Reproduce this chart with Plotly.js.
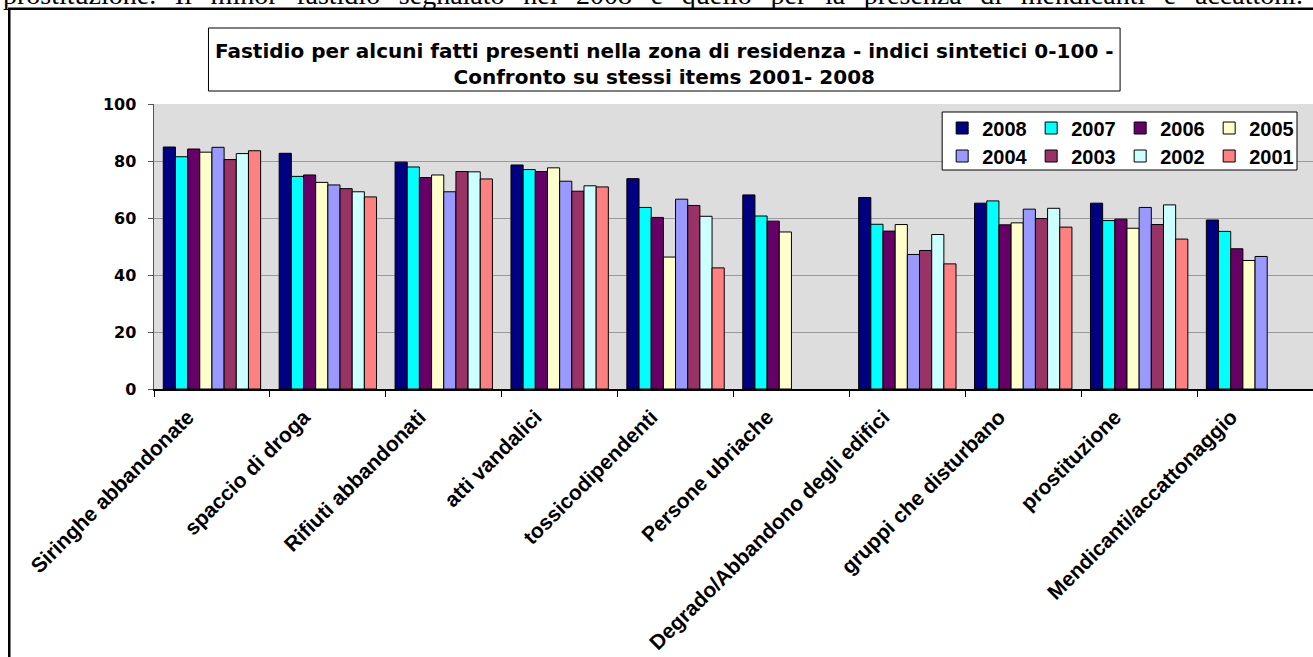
<!DOCTYPE html>
<html>
<head>
<meta charset="utf-8">
<script src="https://cdn.plot.ly/plotly-3.0.1.min.js"></script>
<style>html,body{margin:0;padding:0;background:#fff;}#chart{width:1313px;height:657px;}</style>
</head>
<body>
<div id="chart"></div>
<script>
const categories = ["Siringhe abbandonate","spaccio di droga","Rifiuti abbandonati","atti vandalici","tossicodipendenti","Persone ubriache","Degrado/Abbandono degli edifici","gruppi che disturbano","prostituzione","Mendicanti/accattonaggio"];
const years = ["2008","2007","2006","2005","2004","2003","2002","2001"];
const v2008 = [84.9, 82.7, 79.6, 78.6, 73.8, 68.1, 67.2, 65.2, 65.2, 59.3];
const v2007 = [81.5, 74.6, 77.9, 77.0, 63.7, 60.7, 57.8, 66.0, 59.1, 55.3];
const v2006 = [84.2, 75.1, 74.2, 76.3, 60.2, 58.9, 55.4, 57.6, 59.6, 49.2];
const v2005 = [83.1, 72.5, 75.1, 77.6, 46.3, 55.1, 57.7, 58.3, 56.4, 45.1];
const v2004 = [84.8, 71.6, 69.2, 72.9, 66.6, null, 47.2, 63.1, 63.7, 46.5];
const v2003 = [80.5, 70.3, 76.3, 69.4, 64.4, null, 48.6, 59.8, 57.7, null];
const v2002 = [82.6, 69.2, 76.2, 71.3, 60.6, null, 54.2, 63.4, 64.6, null];
const v2001 = [83.6, 67.4, 73.7, 70.9, 42.5, null, 43.9, 56.8, 52.6, null];
const yTicks = [0, 20, 40, 60, 80, 100];
const colors = ["#000080","#00FFFF","#660066","#FFFFCC","#9999FF","#993366","#CCFFFF","#FF8080"];
const titleText = "Fastidio per alcuni fatti presenti nella zona di residenza - indici sintetici 0-100 -<br>Confronto su stessi items 2001- 2008";
const docWords = ["prostituzione.","Il","minor","fastidio","segnalato","nel","2008","è","quello","per","la","presenza","di","mendicanti","e","accattoni."];

const series = [v2008, v2007, v2006, v2005, v2004, v2003, v2002, v2001];
const traces = series.map((vals, i) => ({
  type: "bar",
  name: years[i],
  x: categories,
  y: vals,
  legend: i < 4 ? "legend" : "legend2",
  marker: {color: colors[i], line: {color: "#000000", width: 1}},
  hoverinfo: "x+y+name"
}));

const W = 1313, H = 657;
const L = 153.5, R = 0, T = 104, B = 268;
const pw = W - L - R, ph = H - T - B;
const px = v => (v - L) / pw;
const py = v => (H - B - v) / ph;

const legendFont = {family: "Liberation Sans, Arial, sans-serif", size: 20, color: "#000", weight: "bold"};
const legendBase = {
  orientation: "h", xanchor: "left", yanchor: "middle",
  bgcolor: "rgba(0,0,0,0)", borderwidth: 0,
  font: legendFont, entrywidth: 44, entrywidthmode: "pixels",
  itemwidth: 30, traceorder: "normal"
};

const layout = {
  width: W, height: H,
  margin: {l: L, r: R, t: T, b: B, pad: 0},
  paper_bgcolor: "#FFFFFF",
  plot_bgcolor: "#DDDDDD",
  barmode: "group",
  bargap: 0.16,
  bargroupgap: 0,
  font: {family: "Liberation Sans, Arial, sans-serif", color: "#000", size: 18},
  title: {
    text: titleText,
    font: {family: "DejaVu Sans, sans-serif", size: 20, color: "#000", weight: "bold"},
    xref: "paper", x: px(664), xanchor: "center",
    yref: "container", y: 1 - 58 / H, yanchor: "middle"
  },
  xaxis: {
    type: "category",
    tickson: "boundaries",
    ticks: "outside", ticklen: 6, tickcolor: "#000", tickwidth: 1,
    showline: true, linecolor: "#000", linewidth: 1.5,
    showgrid: false, zeroline: false,
    tickangle: -45,
    ticklabelshift: -24,
    ticklabelstandoff: 6,
    tickfont: {family: "Liberation Sans, Arial, sans-serif", size: 21, color: "#000", weight: "bold"},
    fixedrange: true
  },
  yaxis: {
    range: [0, 100],
    tickvals: yTicks,
    ticks: "outside", ticklen: 5, tickcolor: "#555", tickwidth: 1,
    showline: true, linecolor: "#555", linewidth: 1.5,
    showgrid: true, gridcolor: "#9A9A9A", gridwidth: 1,
    zeroline: false,
    tickfont: {family: "DejaVu Sans, sans-serif", size: 16, color: "#000", weight: "bold"},
    ticklabelstandoff: 8,
    fixedrange: true
  },
  legend: Object.assign({}, legendBase, {x: px(942), y: py(128)}),
  legend2: Object.assign({}, legendBase, {x: px(942), y: py(156)}),
  shapes: [
    {type: "rect", xref: "paper", yref: "paper", x0: px(942), x1: px(1297), y0: py(170), y1: py(112),
     line: {color: "#000", width: 1}, fillcolor: "#FFFFFF", layer: "above"},
    {type: "rect", xref: "paper", yref: "paper", x0: px(208), x1: px(1120), y0: py(91), y1: py(28),
     line: {color: "#000", width: 1}, fillcolor: "rgba(0,0,0,0)", layer: "above"},
    {type: "rect", xref: "paper", yref: "paper", x0: px(8.7), x1: px(1330), y0: py(680), y1: py(8.7),
     line: {color: "#000", width: 2.5}, fillcolor: "rgba(0,0,0,0)", layer: "above"}
  ],
  annotations: [
    {text: docWords.join("\u2002\u2006"), xref: "paper", yref: "paper", x: px(0), y: py(-5),
     xanchor: "left", yanchor: "middle", showarrow: false,
     font: {family: "Liberation Serif, Times New Roman, serif", size: 28, color: "#000"}}
  ],
  showlegend: true
};

Plotly.newPlot("chart", traces, layout, {displayModeBar: false, staticPlot: true});
</script>
</body>
</html>
